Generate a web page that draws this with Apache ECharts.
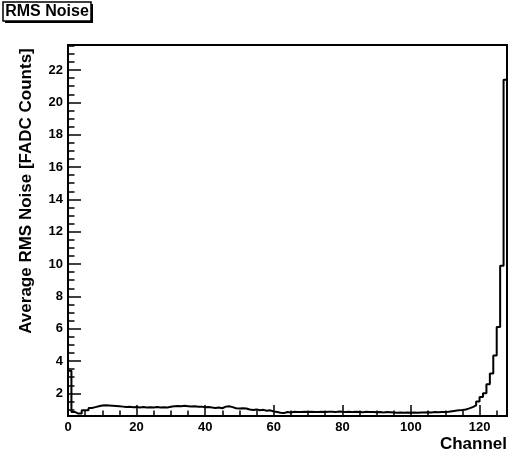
<!DOCTYPE html>
<html>
<head>
<meta charset="utf-8">
<script src="https://cdn.jsdelivr.net/npm/echarts@6/dist/echarts.min.js"></script>
<style>
  html, body { margin: 0; padding: 0; background: #ffffff; }
  #chart { width: 508px; height: 456px; }
</style>
</head>
<body>
<div id="chart"></div>
<script>
// Average RMS noise per channel (128 channels, bin lower edges 0..127)
const channels = [
  0, 1, 2, 3, 4, 5, 6, 7, 8, 9, 10, 11, 12, 13, 14, 15,
  16, 17, 18, 19, 20, 21, 22, 23, 24, 25, 26, 27, 28, 29, 30, 31,
  32, 33, 34, 35, 36, 37, 38, 39, 40, 41, 42, 43, 44, 45, 46, 47,
  48, 49, 50, 51, 52, 53, 54, 55, 56, 57, 58, 59, 60, 61, 62, 63,
  64, 65, 66, 67, 68, 69, 70, 71, 72, 73, 74, 75, 76, 77, 78, 79,
  80, 81, 82, 83, 84, 85, 86, 87, 88, 89, 90, 91, 92, 93, 94, 95,
  96, 97, 98, 99, 100, 101, 102, 103, 104, 105, 106, 107, 108, 109, 110, 111,
  112, 113, 114, 115, 116, 117, 118, 119, 120, 121, 122, 123, 124, 125, 126, 127
];
const rmsNoise = [
  3.40, 0.85, 0.75, 0.75, 0.95, 0.95, 1.10, 1.15, 1.20, 1.25, 1.26, 1.25, 1.24, 1.22, 1.20, 1.18,
  1.15, 1.17, 1.14, 1.16, 1.13, 1.15, 1.12, 1.14, 1.13, 1.15, 1.12, 1.14, 1.13, 1.17, 1.20, 1.22,
  1.20, 1.23, 1.21, 1.19, 1.20, 1.17, 1.18, 1.14, 1.15, 1.12, 1.10, 1.13, 1.08, 1.18, 1.20, 1.15,
  1.08, 1.07, 1.08, 1.06, 1.00, 0.97, 1.00, 0.95, 0.98, 0.93, 0.95, 0.88, 0.85, 0.80, 0.78, 0.85,
  0.82, 0.86, 0.85, 0.84, 0.86, 0.85, 0.87, 0.85, 0.84, 0.86, 0.85, 0.87, 0.86, 0.84, 0.88, 0.86,
  0.85, 0.87, 0.84, 0.86, 0.85, 0.83, 0.86, 0.84, 0.85, 0.83, 0.84, 0.82, 0.84, 0.83, 0.82, 0.80,
  0.81, 0.80, 0.82, 0.80, 0.81, 0.80, 0.82, 0.81, 0.83, 0.82, 0.84, 0.83, 0.85, 0.85, 0.87, 0.90,
  0.93, 0.95, 0.97, 1.00, 1.07, 1.15, 1.26, 1.50, 1.77, 2.00, 2.56, 3.23, 4.35, 6.10, 9.90, 21.40
];
const xMajorTicks = [0, 20, 40, 60, 80, 100, 120];
const xMinorTicks = [5, 10, 15, 25, 30, 35, 45, 50, 55, 65, 70, 75, 85, 90, 95, 105, 110, 115, 125];
const yMajorTicks = [2, 4, 6, 8, 10, 12, 14, 16, 18, 20, 22];
const yMinorTicks = [];
for (let v = 1; v <= 23.5; v += 0.5) { if (v % 2 !== 0) yMinorTicks.push(v); }

const X_MIN = 0, X_MAX = 128;
const Y_MIN = 0.6, Y_MAX = 23.55;

// Histogram outline: rise from the frame at the first edge, step across every bin,
// and drop back down at the last edge.
const outline = [[channels[0], Y_MIN]];
channels.forEach((c, i) => outline.push([c, rmsNoise[i]]));
outline.push([X_MAX, rmsNoise[rmsNoise.length - 1]]);
outline.push([X_MAX, Y_MIN]);

const FONT = '"Liberation Sans", Arial, Helvetica, sans-serif';

function xAxisDef(ticks, len, labels) {
  return {
    type: 'value', min: X_MIN, max: X_MAX, position: 'bottom',
    axisLine: { show: false },
    splitLine: { show: false },
    axisTick: { show: true, inside: true, length: len, customValues: ticks,
                lineStyle: { color: '#000', width: 1.5 } },
    axisLabel: { show: labels, customValues: ticks, margin: 5,
                 color: '#000', fontFamily: FONT, fontWeight: 'bold', fontSize: 13 }
  };
}
function yAxisDef(ticks, len, labels) {
  return {
    type: 'value', min: Y_MIN, max: Y_MAX, position: 'left',
    axisLine: { show: false },
    splitLine: { show: false },
    axisTick: { show: true, inside: true, length: len, customValues: ticks,
                lineStyle: { color: '#000', width: 1.5 } },
    axisLabel: { show: labels, customValues: ticks, margin: 5,
                 color: '#000', fontFamily: FONT, fontWeight: 'bold', fontSize: 13 }
  };
}

const chart = echarts.init(document.getElementById('chart'), null, { renderer: 'canvas' });
chart.setOption({
  animation: false,
  backgroundColor: '#ffffff',
  grid: {
    left: 68, right: 1, top: 45, bottom: 40,
    show: true, borderColor: '#000', borderWidth: 2, backgroundColor: 'transparent'
  },
  xAxis: [xAxisDef(xMajorTicks, 11, true), xAxisDef(xMinorTicks, 5.5, false)],
  yAxis: [yAxisDef(yMajorTicks, 13, true), yAxisDef(yMinorTicks, 6.5, false)],
  series: [{
    type: 'line',
    xAxisIndex: 0, yAxisIndex: 0,
    data: outline,
    step: 'end',
    symbol: 'none',
    clip: false,
    lineStyle: { color: '#000', width: 2 }
  }],
  graphic: [
    // title box with drop shadow
    { type: 'rect', z: 100, shape: { x: 5, y: 4, width: 88, height: 19 },
      style: { fill: '#000' } },
    { type: 'rect', z: 101, shape: { x: 3, y: 2, width: 88, height: 19 },
      style: { fill: '#fff', stroke: '#000', lineWidth: 1.5 } },
    { type: 'text', z: 102, x: 47, y: 12,
      style: { text: 'RMS Noise', fill: '#000', font: 'bold 16px ' + FONT,
               align: 'center', verticalAlign: 'middle' } },
    // axis titles
    { type: 'text', z: 12, x: 26, y: 191, rotation: Math.PI / 2,
      style: { text: 'Average RMS Noise [FADC Counts]', fill: '#000',
               font: 'bold 17px ' + FONT, align: 'center', verticalAlign: 'middle' } },
    { type: 'text', z: 12, x: 507, y: 444,
      style: { text: 'Channel', fill: '#000', font: 'bold 17px ' + FONT,
               align: 'right', verticalAlign: 'middle' } }
  ]
});
</script>
</body>
</html>
